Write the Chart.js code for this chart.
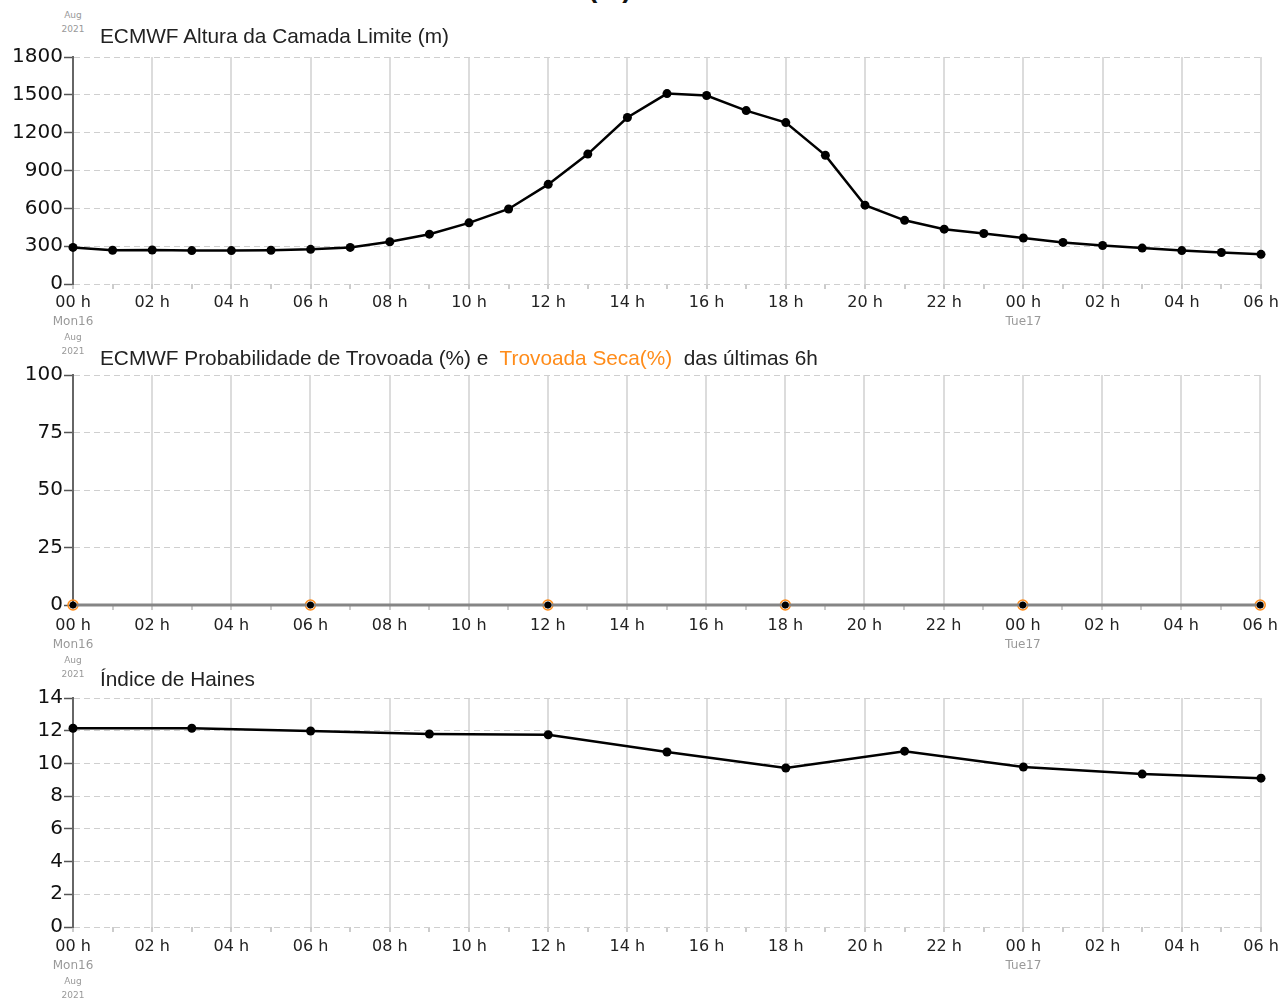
<!DOCTYPE html>
<html>
<head>
<meta charset="utf-8">
<script src="https://cdn.jsdelivr.net/npm/chart.js@4/dist/chart.umd.min.js"></script>
<style>
  body { margin: 0; background: #fff; }
  #page { position: relative; width: 1284px; height: 998px; overflow: hidden; font-family: "Liberation Sans", Arial, sans-serif; }
  canvas { position: absolute; left: 0; }
  .title { position: absolute; left: 100px; font-size: 20.8px; line-height: 24px; color: #222; white-space: pre; }
  .orange { color: #ff8c1a; }
  .stamp { position: absolute; left: 53px; width: 40px; text-align: center; font-family: "DejaVu Sans", sans-serif; font-size: 9px; line-height: 14px; color: #999; }
  .cut { position: absolute; left: 588px; top: -28px; font-size: 28px; font-weight: bold; color: #111; }
</style>
</head>
<body>
<div id="page">
  <div class="cut">(m)</div>
  <div class="stamp" style="top:8px">Aug<br>2021</div>
  <canvas id="c1" width="1284" height="370" style="top:0px"></canvas>
  <canvas id="c2" width="1284" height="370" style="top:318px"></canvas>
  <canvas id="c3" width="1284" height="370" style="top:641px"></canvas>
  <div class="title" style="top:24px">ECMWF Altura da Camada Limite (m)</div>
  <div class="title" style="top:346px">ECMWF Probabilidade de Trovoada (%) e  <span class="orange">Trovoada Seca(%)</span>  das últimas 6h</div>
  <div class="title" style="top:667px">Índice de Haines</div>
</div>
<script>
// hours since Mon 16 Aug 2021 00h
const hourLabels = ["00 h", "02 h", "04 h", "06 h", "08 h", "10 h", "12 h", "14 h", "16 h", "18 h", "20 h", "22 h", "00 h", "02 h", "04 h", "06 h"];
const dayTicks = [0, 24];
const dayLabels = ["Mon16", "Tue17"];
const yearLabel = ["Aug", "2021"];

const blHours = [0, 1, 2, 3, 4, 5, 6, 7, 8, 9, 10, 11, 12, 13, 14, 15, 16, 17, 18, 19, 20, 21, 22, 23, 24, 25, 26, 27, 28, 29, 30];
const blHeight = [290, 268, 270, 265, 265, 268, 275, 290, 335, 395, 485, 595, 790, 1030, 1320, 1510, 1495, 1375, 1280, 1020, 625, 505, 435, 400, 365, 330, 305, 285, 265, 250, 235];

const stormHours = [0, 6, 12, 18, 24, 30];
const stormProb = [0, 0, 0, 0, 0, 0];
const dryStorm = [0, 0, 0, 0, 0, 0];

const hainesHours = [0, 3, 6, 9, 12, 15, 18, 21, 24, 27, 30];
const haines = [12.15, 12.15, 11.98, 11.8, 11.75, 10.7, 9.72, 10.75, 9.78, 9.35, 9.1];

const orange = "#ff8c1a";

Chart.defaults.font.family = "'DejaVu Sans', sans-serif";
Chart.defaults.color = "#222";

const pts = (xs, ys) => xs.map((x, i) => ({ x, y: ys[i] }));

const makeChart = (id, datasets, yMax, yStep, areaBottom, extra) => {
  const mainHeight = 30 + extra;
  const yearHeight = 370 - areaBottom - mainHeight - 17;
  return new Chart(document.getElementById(id), {
    type: "line",
    data: { datasets },
    options: {
      responsive: false,
      animation: false,
      devicePixelRatio: 1,
      layout: { padding: { top: 57, right: 23, left: 0, bottom: 0 } },
      plugins: { legend: { display: false }, tooltip: { enabled: false }, title: { display: false } },
      scales: {
        x: {
          type: "linear",
          position: "bottom",
          weight: 0,
          min: 0,
          max: 30,
          afterFit: (s) => { s.height = mainHeight; },
          ticks: {
            stepSize: 1,
            autoSkip: false,
            maxRotation: 0,
            padding: 4 + extra,
            color: "#222",
            font: { size: 16 },
            callback: (v) => (v % 2 === 0 ? hourLabels[v / 2] : "")
          },
          grid: {
            lineWidth: 2,
            tickLength: 5,
            color: (c) => (c.tick && c.tick.value % 2 === 0 ? "#dcdcdc" : "rgba(0,0,0,0)"),
            tickColor: "#cccccc"
          },
          border: { display: false }
        },
        day: {
          type: "linear",
          position: "bottom",
          weight: 1,
          min: 0,
          max: 30,
          afterFit: (s) => { s.height = 17; },
          afterBuildTicks: (s) => { s.ticks = dayTicks.map((v) => ({ value: v })); },
          ticks: {
            autoSkip: false,
            maxRotation: 0,
            padding: 1,
            color: "#999",
            font: { size: 12 },
            callback: (v) => dayLabels[dayTicks.indexOf(v)]
          },
          grid: { display: false, drawTicks: false },
          border: { display: false }
        },
        year: {
          type: "linear",
          position: "bottom",
          weight: 2,
          min: 0,
          max: 30,
          afterFit: (s) => { s.height = yearHeight; },
          afterBuildTicks: (s) => { s.ticks = [{ value: 0 }]; },
          ticks: {
            autoSkip: false,
            maxRotation: 0,
            padding: 0,
            color: "#999",
            font: { size: 9, lineHeight: 1.5 },
            callback: () => yearLabel
          },
          grid: { display: false, drawTicks: false },
          border: { display: false }
        },
        y: {
          min: 0,
          max: yMax,
          afterFit: (s) => { s.width = 73; },
          ticks: { stepSize: yStep, padding: 1, color: "#111", font: { size: 20 }, callback: (v) => String(v) },
          grid: { color: "#cfcfcf", lineWidth: 1, tickLength: 9, tickColor: "#555", tickWidth: 1.5 },
          border: { display: true, color: "#666", width: 2, dash: [6, 4] }
        }
      }
    }
  });
};

makeChart("c1", [{
  data: pts(blHours, blHeight),
  borderColor: "#000",
  borderWidth: 2.5,
  backgroundColor: "#000",
  pointRadius: 4.5,
  pointBorderWidth: 0,
  clip: false,
  tension: 0
}], 1800, 300, 284, 0);

makeChart("c2", [{
  data: pts(stormHours, stormProb),
  borderColor: "#858585",
  borderWidth: 3,
  backgroundColor: "#000",
  pointRadius: 3.5,
  pointBorderWidth: 0,
  clip: false
}, {
  data: pts(stormHours, dryStorm),
  showLine: false,
  borderColor: orange,
  backgroundColor: "rgba(0,0,0,0)",
  pointRadius: 5,
  pointBorderWidth: 1.5,
  pointBorderColor: orange,
  clip: false
}], 100, 25, 287, 2);

makeChart("c3", [{
  data: pts(hainesHours, haines),
  borderColor: "#000",
  borderWidth: 2.5,
  backgroundColor: "#000",
  pointRadius: 4.5,
  pointBorderWidth: 0,
  clip: false
}], 14, 2, 286, 1);
</script>
</body>
</html>
